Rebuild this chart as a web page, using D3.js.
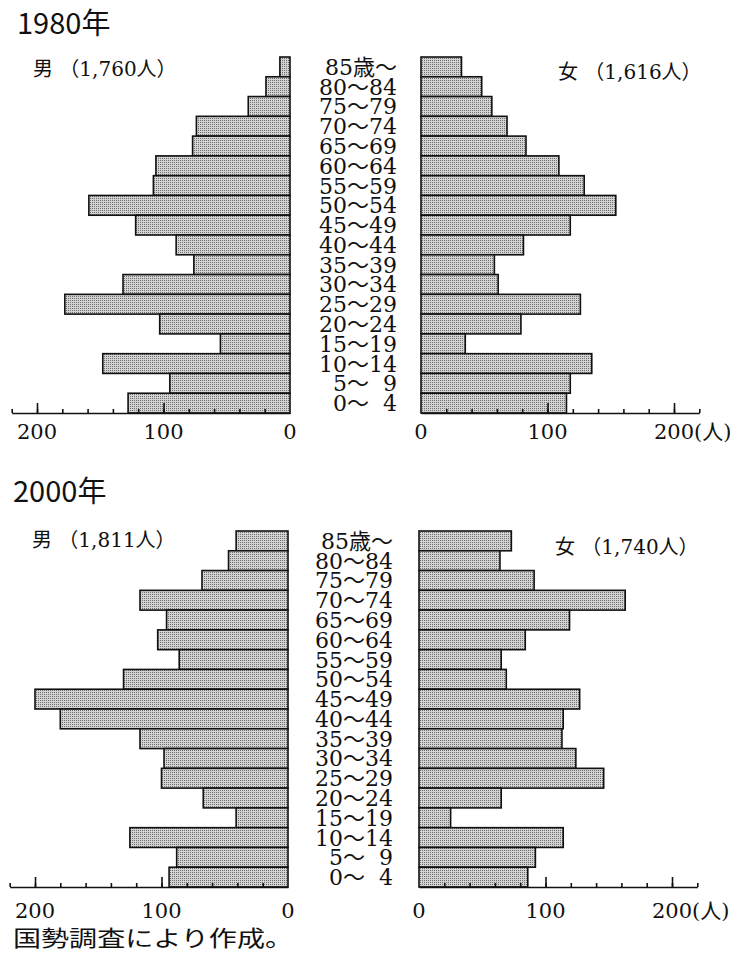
<!DOCTYPE html>
<html>
<head>
<meta charset="utf-8">
<script src="https://cdn.jsdelivr.net/npm/d3@7"></script>
<style>
  html, body { margin: 0; padding: 0; background: #fff; }
  svg { display: block; }
  .serif { font-family: "DejaVu Serif", "Noto Sans CJK JP", serif; fill: #111; }
  .gothic { font-family: "Noto Sans CJK JP", sans-serif; fill: #111; }
  .age { white-space: pre; }
</style>
</head>
<body>
<svg id="chart" width="741" height="970"></svg>
<script>
// age groups, top of the pyramid first
const ages = ["85歳～", "80～84", "75～79", "70～74", "65～69", "60～64", "55～59", "50～54", "45～49",
  "40～44", "35～39", "30～34", "25～29", "20～24", "15～19", "10～14", "5～  9", "0～  4"];

const male1980 = [8, 19, 33, 74, 77, 106, 108, 159, 122, 90, 76, 132, 178, 103, 55, 148, 95, 128];
const female1980 = [32, 48, 56, 68, 83, 109, 129, 154, 118, 81, 58, 61, 126, 79, 35, 135, 118, 115];
const male2000 = [41, 47, 68, 117, 96, 103, 86, 130, 200, 180, 117, 98, 100, 67, 41, 125, 88, 94];
const female2000 = [73, 64, 91, 163, 119, 84, 65, 69, 127, 114, 113, 124, 146, 65, 25, 114, 92, 86];

const minorTicks = d3.range(20, 221, 20);
const majorTicks = [100, 200];

const svg = d3.select("#chart");

// halftone-like fill for the bars
const defs = svg.append("defs");
const pat = defs.append("pattern")
  .attr("id", "dots")
  .attr("width", 2)
  .attr("height", 2)
  .attr("patternUnits", "userSpaceOnUse");
pat.append("rect").attr("width", 2).attr("height", 2).attr("fill", "#d3d3d3");
pat.append("rect").attr("width", 1).attr("height", 1).attr("fill", "#6e6e6e");

const unit = 1.265; // px per person

function drawPyramid(p) {
  const g = svg.append("g");
  const y = d3.scaleBand().domain(ages).range([p.top, p.bottom]).padding(0);
  const xL = d3.scaleLinear().domain([0, 220]).range([p.zeroL, p.zeroL - 220 * unit]);
  const xR = d3.scaleLinear().domain([0, 220]).range([p.zeroR, p.zeroR + 220 * unit]);

  g.append("text").attr("class", "gothic")
    .attr("x", p.titleX).attr("y", p.titleY)
    .attr("font-size", 29)
    .text(p.title);

  g.append("text").attr("class", "serif")
    .attr("x", p.maleX).attr("y", p.maleY)
    .attr("font-size", 20)
    .text(`男 （${p.maleTotal}人）`);

  g.append("text").attr("class", "serif")
    .attr("x", p.femaleX).attr("y", p.femaleY)
    .attr("font-size", 20)
    .text(`女 （${p.femaleTotal}人）`);

  g.selectAll("rect.male")
    .data(p.male)
    .join("rect")
    .attr("class", "male")
    .attr("x", (d) => xL(d))
    .attr("y", (d, i) => y(ages[i]))
    .attr("width", (d) => p.zeroL - xL(d))
    .attr("height", y.bandwidth())
    .attr("fill", "url(#dots)")
    .attr("stroke", "#111")
    .attr("stroke-width", 1.6);

  g.selectAll("rect.female")
    .data(p.female)
    .join("rect")
    .attr("class", "female")
    .attr("x", p.zeroR)
    .attr("y", (d, i) => y(ages[i]))
    .attr("width", (d) => xR(d) - p.zeroR)
    .attr("height", y.bandwidth())
    .attr("fill", "url(#dots)")
    .attr("stroke", "#111")
    .attr("stroke-width", 1.6);

  g.selectAll("text.age")
    .data(ages)
    .join("text")
    .attr("class", "serif age")
    .attr("x", p.labelEnd)
    .attr("y", (d) => y(d) + y.bandwidth() / 2 + 8)
    .attr("text-anchor", "end")
    .attr("font-size", 22)
    .text((d) => d);

  [xL, xR].forEach((x) => {
    const minor = g.append("g")
      .attr("transform", `translate(0,${p.bottom})`)
      .call(d3.axisBottom(x).tickValues(minorTicks).tickSize(-4).tickSizeOuter(0).tickFormat(""));
    const major = g.append("g")
      .attr("transform", `translate(0,${p.bottom})`)
      .call(d3.axisBottom(x).tickValues(majorTicks).tickSize(-10).tickSizeOuter(0).tickFormat(""));
    major.select(".domain").remove();
    [minor, major].forEach((a) => {
      a.selectAll("path, line").attr("stroke", "#111").attr("stroke-width", 1.6);
    });
  });

  g.selectAll("text.tickL")
    .data([0, 100, 200])
    .join("text")
    .attr("class", "serif tickL")
    .attr("x", (d) => xL(d))
    .attr("y", p.axisLabelY)
    .attr("text-anchor", "middle")
    .attr("font-size", 21)
    .text((d) => d);

  g.selectAll("text.tickR")
    .data([0, 100, 200])
    .join("text")
    .attr("class", "serif tickR")
    .attr("x", (d) => d === 200 ? xR(d) - 20 : xR(d))
    .attr("y", p.axisLabelY)
    .attr("text-anchor", (d) => d === 200 ? "start" : "middle")
    .attr("font-size", 21)
    .text((d) => d === 200 ? "200(人)" : d);
}

drawPyramid({
  title: "1980年", titleX: 17, titleY: 34,
  maleTotal: "1,760", femaleTotal: "1,616",
  maleX: 33, maleY: 76, femaleX: 558, femaleY: 79,
  male: male1980, female: female1980,
  top: 57, bottom: 413, zeroL: 290, zeroR: 421, labelEnd: 397, axisLabelY: 439
});

drawPyramid({
  title: "2000年", titleX: 13, titleY: 502,
  maleTotal: "1,811", femaleTotal: "1,740",
  maleX: 32, maleY: 547, femaleX: 555, femaleY: 554,
  male: male2000, female: female2000,
  top: 531, bottom: 887, zeroL: 288, zeroR: 419, labelEnd: 393, axisLabelY: 918
});

svg.append("text")
  .attr("class", "gothic")
  .attr("x", 13)
  .attr("y", 946)
  .attr("font-size", 22)
  .attr("textLength", 280)
  .attr("lengthAdjust", "spacingAndGlyphs")
  .text("国勢調査により作成。");
</script>
</body>
</html>
